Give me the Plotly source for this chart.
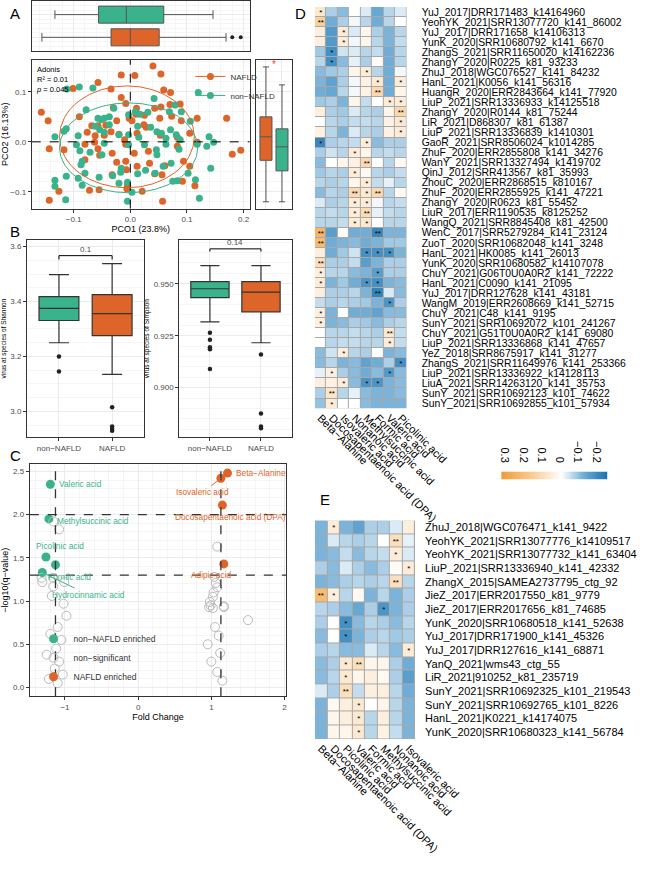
import plotly.graph_objects as go
import numpy as np

W, H = 669, 869
def dx(a, b): return [a / W, b / W]
def dy(t, b): return [1 - b / H, 1 - t / H]
def px(v): return v / W
def py(v): return 1 - v / H

ORANGE = '#DE6529'
GREEN = '#3AB28C'
FONT = 'Liberation Sans, Arial, sans-serif'
TICK = '#4D4D4D'
TS = 8      # tick label size
TT = 9      # axis title size

# ---------------- Panel A data ----------------
nafld_x = [0.040, 0.054, -0.016, 0.008, -0.057, -0.101, -0.034, 0.059, -0.016, 0.071,
           -0.157, -0.145, -0.030, 0.011, -0.008, 0.043, 0.054, 0.070, 0.088, 0.010,
           -0.002, 0.025, 0.052, -0.090, -0.068, -0.057, -0.043, -0.024, -0.034, -0.020,
           0.003, 0.024, 0.028, 0.073, 0.090, 0.053, 0.083, 0.118, 0.170, -0.076,
           -0.062, -0.063, -0.080, -0.057, -0.046, -0.010, -0.008, 0.012, 0.105, 0.118,
           -0.143, 0.180, 0.195, -0.117, 0.083, -0.032, 0.007, 0.032, -0.054, -0.080,
           -0.024, -0.008, 0.012, 0.061, 0.034, 0.094, 0.105, -0.007, -0.032, 0.043,
           0.056, 0.114, 0.092, -0.126, -0.072, -0.055, -0.006, 0.021, -0.143, 0.057,
           -0.005]
nafld_y = [0.152, 0.136, 0.134, 0.133, 0.119, 0.107, 0.106, 0.104, 0.089, 0.099,
           0.059, 0.042, 0.069, 0.067, 0.077, 0.067, 0.070, 0.075, 0.076, 0.055,
           0.047, 0.053, 0.047, 0.050, 0.032, 0.032, 0.033, 0.042, 0.020, 0.015,
           0.042, 0.034, 0.029, 0.051, 0.042, 0.013, 0.009, 0.047, 0.047, 0.019,
           0.012, -0.001, -0.005, -0.014, 0.013, 0.004, -0.005, 0.017, 0.017, -0.001,
           -0.014, -0.025, -0.017, -0.016, -0.009, -0.023, -0.023, -0.019, -0.027, -0.036,
           -0.041, -0.039, -0.049, -0.048, -0.043, -0.039, -0.049, -0.056, -0.066, -0.064,
           -0.066, -0.088, -0.079, -0.099, -0.097, -0.096, -0.094, -0.099, -0.117, -0.119,
           -0.088]
non_x = [-0.112, -0.090, -0.066, 0.120, 0.042, 0.079, -0.029, -0.003, -0.078, 0.090,
         0.009, 0.017, 0.031, 0.069, -0.057, -0.051, -0.046, -0.037, -0.062, -0.054,
         -0.046, -0.037, -0.113, -0.117, -0.133, -0.092, -0.020, -0.003, 0.013, 0.015,
         0.036, 0.047, 0.055, 0.071, 0.063, 0.081, 0.088, 0.106, 0.118, 0.139,
         0.147, 0.135, -0.003, -0.046, -0.071, -0.050, 0.025, 0.047, 0.046, 0.063,
         0.086, -0.089, -0.095, -0.085, -0.087, -0.080, -0.133, -0.113, -0.133, -0.092,
         -0.085, -0.055, -0.031, -0.020, -0.016, -0.017, -0.005, 0.013, 0.027, 0.044,
         0.058, 0.072, 0.075, 0.083, 0.102, 0.115, 0.142, 0.122, 0.003, -0.005,
         -0.114]
non_y = [0.106, 0.110, 0.108, 0.099, 0.087, 0.074, 0.067, 0.054, 0.064, 0.060,
         0.060, 0.055, 0.059, 0.060, 0.047, 0.044, 0.047, 0.050, 0.031, 0.024,
         0.019, 0.034, 0.026, 0.021, 0.010, 0.012, 0.014, 0.014, 0.031, 0.009,
         0.029, 0.020, 0.017, 0.024, 0.007, 0.014, 0.004, 0.041, -0.005, 0.010,
         -0.001, -0.009, -0.006, -0.003, -0.021, -0.026, -0.006, -0.026, -0.016, -0.005,
         -0.015, -0.018, -0.006, -0.039, -0.046, -0.063, -0.077, -0.069, -0.089, -0.073,
         -0.087, -0.071, -0.068, -0.083, -0.053, -0.061, -0.081, -0.064, -0.057, -0.063,
         -0.049, -0.043, -0.079, -0.078, -0.063, -0.076, -0.053, -0.113, -0.101, -0.119,
         -0.116]

# box stats: q1, median, q3, lower whisker, upper whisker
pco1_box = {'non-NAFLD': [-0.056, -0.007, 0.059, -0.133, 0.146],
            'NAFLD': [-0.034, 0.000, 0.051, -0.156, 0.169]}
pco1_out_nafld = [0.180, 0.195]
pco2_box = {'NAFLD': [-0.037, 0.010, 0.050, -0.120, 0.150],
            'non-NAFLD': [-0.058, -0.010, 0.026, -0.120, 0.114]}

# ---------------- Panel B data ----------------
shannon_box = {'non-NAFLD': [3.331, 3.375, 3.418, 3.25, 3.498],
               'NAFLD': [3.276, 3.356, 3.425, 3.135, 3.538]}
shannon_out = {'non-NAFLD': [3.20, 3.145], 'NAFLD': [3.015, 2.945, 2.937, 2.93]}
simpson_box = {'non-NAFLD': [0.9433, 0.9476, 0.951, 0.9317, 0.9587],
               'NAFLD': [0.9365, 0.946, 0.951, 0.9216, 0.9587]}
simpson_out = {'non-NAFLD': [0.9264, 0.923, 0.9194, 0.9185, 0.909],
               'NAFLD': [0.916, 0.8875, 0.8813, 0.8805]}
shannon_p = '0.1'
simpson_p = '0.14'

# ---------------- Panel C data ----------------
c_green_names = ['Valeric acid', 'Methylsuccinic acid', 'Picolinic acid', 'Formic acid', 'Hydrocinnamic acid']
c_green_fc = [-1.20, -1.22, -1.26, -1.13, -1.31]
c_green_q = [2.35, 1.95, 1.51, 1.42, 1.33]
c_orange_names = ['Beta−Alanine', 'Isovaleric acid', 'Docosapentaenoic acid (DPA)', 'Adipic acid']
c_orange_fc = [1.22, 1.13, 1.15, 1.17]
c_orange_q = [2.48, 2.42, 2.11, 1.43]
c_grey_fc = [-1.16, -1.08, -1.32, -1.31, -1.01, -1.16, -1.16, -1.18, -1.02, -0.98,
             -1.10, -1.20, -1.05, -1.12, -1.25, -1.08, -1.14, -1.03, -1.22, -1.10,
             1.08, 1.04, 1.06, 1.08, 1.03, 1.02, 0.98, 0.97, 1.02, 1.17,
             0.99, 1.17, 1.50, 1.05, 1.10, 0.95, 1.12, 1.00, 1.08, 1.15]
c_grey_q = [1.92, 1.83, 1.27, 1.22, 1.22, 1.27, 1.17, 1.06, 0.97, 0.83,
            0.70, 0.62, 0.55, 0.45, 0.38, 0.30, 0.22, 0.15, 0.10, 0.05,
            1.63, 1.28, 1.21, 1.16, 1.10, 1.05, 0.99, 0.93, 0.92, 0.94,
            0.95, 0.93, 0.78, 0.70, 0.60, 0.50, 0.40, 0.30, 0.18, 0.08]

# ---------------- Panel D data ----------------
D_cols = ['Beta−Alanine', 'Docosapentaenoic acid (DPA)', 'Isovaleric acid', 'Nonanoic acid',
          'Methylsuccinic acid', 'Formic acid', 'Valeric acid', 'Picolinic acid']
D_rows = ['YuJ_2017|DRR171483_k14164960', 'YeohYK_2021|SRR13077720_k141_86002',
          'YuJ_2017|DRR171658_k14106313', 'YunK_2020|SRR10680792_k141_6670',
          'ZhangS_2021|SRR11650020_k14162236', 'ZhangY_2020|R0225_k81_93233',
          'ZhuJ_2018|WGC076527_k141_84232', 'HanL_2021|K0056_k141_56316',
          'HuangR_2020|ERR2843664_k141_77920', 'LiuP_2021|SRR13336933_k14125518',
          'ZhangY_2020|R0144_k81_75244', 'LiR_2021|D868307_k81_61387',
          'LiuP_2021|SRR13336839_k1410301', 'GaoR_2021|SRR8506024_k1014285',
          'ZhuF_2020|ERR2855808_k141_34276', 'WanY_2021|SRR13327494_k1419702',
          'QinJ_2012|SRR413567_k81_35993', 'ZhouC_2020|ERR2868515_k810167',
          'ZhuF_2020|ERR2855925_k141_47221', 'ZhangY_2020|R0623_k81_55452',
          'LiuR_2017|ERR1190535_k8125252', 'WangQ_2021|SRR8845408_k81_42500',
          'WenC_2017|SRR5279284_k141_23124', 'ZuoT_2020|SRR10682048_k141_3248',
          'HanL_2021|HK0085_k141_26013', 'YunK_2020|SRR10680582_k14107078',
          'ChuY_2021|G06T0U0A0R2_k141_72222', 'HanL_2021|C0090_k141_21095',
          'YuJ_2017|DRR127628_k141_43181', 'WangM_2019|ERR2608669_k141_52715',
          'ChuY_2021|C48_k141_9195', 'SunY_2021|SRR10692072_k101_241267',
          'ChuY_2021|G51T0U0A0R2_k141_69080', 'LiuP_2021|SRR13336868_k141_47657',
          'YeZ_2018|SRR8675917_k141_31277', 'ZhangS_2021|SRR11649976_k141_253366',
          'LiuP_2021|SRR13336922_k14128113', 'LiuA_2021|SRR14263120_k141_35753',
          'SunY_2021|SRR10692123_k101_74622', 'SunY_2021|SRR10692855_k101_57934']
D_vals = [
    [0.07, -0.07, -0.10, 0.00, -0.03, -0.13, -0.06, -0.03],
    [0.15, -0.12, -0.07, -0.01, -0.06, -0.12, -0.06, 0.00],
    [0.05, -0.16, 0.06, -0.03, 0.03, -0.07, -0.11, -0.06],
    [0.05, -0.16, 0.06, -0.01, 0.03, -0.06, -0.11, -0.05],
    [-0.08, -0.18, -0.04, -0.03, -0.06, -0.05, -0.12, -0.06],
    [-0.06, -0.18, -0.10, -0.02, -0.07, 0.01, -0.12, -0.06],
    [-0.10, -0.08, -0.07, 0.03, 0.06, -0.06, -0.12, -0.01],
    [-0.11, -0.14, -0.07, -0.01, 0.04, 0.07, -0.12, 0.06],
    [-0.12, -0.13, -0.06, -0.01, 0.04, 0.12, -0.12, 0.03],
    [-0.08, -0.07, -0.11, 0.03, -0.05, 0.00, 0.06, 0.06],
    [0.05, -0.07, -0.08, -0.03, -0.06, -0.07, 0.03, 0.12],
    [0.00, -0.06, -0.07, -0.05, -0.05, -0.06, 0.04, 0.07],
    [0.04, -0.06, -0.11, -0.03, -0.06, -0.07, 0.04, 0.06],
    [-0.20, -0.07, -0.06, -0.05, 0.06, -0.10, -0.07, -0.07],
    [-0.07, -0.04, -0.06, 0.06, 0.03, -0.06, -0.05, -0.06],
    [-0.10, 0.00, 0.03, 0.04, 0.12, 0.00, -0.06, 0.02],
    [-0.08, -0.06, -0.07, 0.06, 0.02, -0.06, -0.07, -0.05],
    [-0.06, -0.07, -0.06, 0.03, 0.06, -0.05, -0.02, -0.06],
    [-0.10, -0.06, -0.07, 0.12, 0.07, 0.12, -0.06, 0.02],
    [-0.03, -0.07, -0.06, 0.06, 0.06, -0.01, -0.06, -0.05],
    [-0.06, -0.05, -0.06, 0.06, 0.11, -0.02, -0.05, -0.06],
    [-0.06, -0.06, -0.05, 0.06, 0.07, 0.00, -0.06, -0.06],
    [0.24, -0.15, 0.01, -0.12, -0.12, -0.20, -0.11, -0.11],
    [0.22, -0.12, -0.11, -0.10, -0.12, -0.11, -0.08, -0.08],
    [0.05, -0.12, -0.08, -0.04, -0.18, -0.18, -0.18, -0.11],
    [0.10, -0.07, -0.07, -0.05, -0.15, -0.11, -0.07, -0.07],
    [0.05, -0.06, -0.06, -0.10, -0.11, -0.15, -0.07, -0.07],
    [0.06, -0.11, -0.08, -0.12, -0.17, -0.18, -0.11, -0.10],
    [0.05, -0.07, -0.07, -0.06, -0.11, -0.21, -0.03, -0.10],
    [-0.05, -0.07, -0.06, -0.07, -0.08, -0.11, -0.17, -0.07],
    [0.05, -0.11, 0.00, -0.12, -0.12, -0.14, -0.10, -0.10],
    [0.05, -0.11, -0.10, -0.07, -0.08, -0.10, -0.07, -0.06],
    [0.00, -0.06, -0.06, -0.05, -0.06, -0.07, 0.07, -0.05],
    [0.00, -0.06, -0.05, -0.05, -0.06, -0.06, 0.06, -0.05],
    [-0.10, -0.04, 0.05, -0.06, -0.07, 0.00, -0.11, -0.10],
    [-0.10, -0.06, -0.11, -0.10, -0.14, -0.12, -0.07, -0.18],
    [-0.02, 0.05, -0.07, -0.10, -0.12, -0.10, -0.16, -0.10],
    [0.05, 0.04, 0.06, -0.10, -0.17, -0.17, -0.11, -0.10],
    [-0.07, 0.08, -0.06, -0.02, -0.10, -0.11, -0.11, -0.10],
    [-0.09, 0.06, 0.00, 0.00, -0.10, -0.11, -0.11, -0.11],
]
D_stars = [
    ['*', '', '', '', '', '', '', ''], ['**', '', '', '', '', '', '', ''],
    ['', '', '*', '', '', '', '', ''], ['', '', '*', '', '', '', '', ''],
    ['', '*', '', '', '', '', '', ''], ['', '*', '', '', '', '', '', ''],
    ['', '', '', '', '*', '', '', ''], ['', '', '', '', '', '*', '', '*'],
    ['', '', '', '', '', '**', '', ''], ['', '', '', '', '', '', '*', '*'],
    ['', '', '', '', '', '', '', '**'], ['', '', '', '', '', '', '', '*'],
    ['', '', '', '', '', '', '', '*'], ['*', '', '', '', '*', '', '', ''],
    ['', '', '', '*', '', '', '', ''], ['', '', '', '', '**', '', '', ''],
    ['', '', '', '*', '', '', '', ''], ['', '', '', '', '*', '', '', ''],
    ['', '', '', '**', '*', '**', '', ''], ['', '', '', '*', '*', '', '', ''],
    ['', '', '', '*', '**', '', '', ''], ['', '', '', '*', '*', '', '', ''],
    ['**', '', '', '', '', '**', '', ''], ['**', '', '', '', '', '', '', ''],
    ['', '', '', '', '*', '*', '*', ''], ['**', '', '', '', '', '', '', ''],
    ['*', '', '', '', '', '*', '', ''], ['*', '', '', '', '*', '*', '', ''],
    ['', '', '', '', '', '**', '', ''], ['', '', '', '', '', '', '*', ''],
    ['*', '', '', '', '', '', '', ''], ['*', '', '', '', '', '', '', ''],
    ['', '', '', '', '', '', '**', ''], ['', '', '', '', '', '', '*', ''],
    ['', '', '*', '', '', '', '', ''], ['', '', '', '', '', '', '', '*'],
    ['', '*', '', '', '', '', '*', ''], ['', '', '*', '', '*', '*', '', ''],
    ['', '**', '', '', '', '', '', ''], ['', '*', '', '', '', '', '', ''],
]

# ---------------- Panel E data ----------------
E_cols = ['Beta−Alanine', 'Docosapentaenoic acid (DPA)', 'Picolinic acid', 'Valeric acid',
          'Formic acid', 'Methylsuccinic acid', 'Nonanoic acid', 'Isovaleric acid']
E_rows = ['ZhuJ_2018|WGC076471_k141_9422', 'YeohYK_2021|SRR13077776_k14109517',
          'YeohYK_2021|SRR13077732_k141_63404', 'LiuP_2021|SRR13336940_k141_42332',
          'ZhangX_2015|SAMEA2737795_ctg_92', 'JieZ_2017|ERR2017550_k81_9779',
          'JieZ_2017|ERR2017656_k81_74685', 'YunK_2020|SRR10680518_k141_52638',
          'YuJ_2017|DRR171900_k141_45326', 'YuJ_2017|DRR127616_k141_68871',
          'YanQ_2021|wms43_ctg_55', 'LiR_2021|910252_k81_235719',
          'SunY_2021|SRR10692325_k101_219543', 'SunY_2021|SRR10692765_k101_8226',
          'HanL_2021|K0221_k14174075', 'YunK_2020|SRR10680323_k141_56784']
E_vals = [
    [-0.11, 0.06, -0.11, -0.14, -0.07, -0.07, -0.03, 0.05],
    [-0.11, -0.03, -0.06, -0.07, -0.06, 0.00, 0.10, -0.02],
    [-0.11, -0.10, -0.05, -0.10, -0.06, -0.05, 0.06, -0.03],
    [-0.07, -0.10, -0.03, -0.07, -0.10, -0.07, 0.01, 0.06],
    [-0.11, -0.10, -0.07, -0.06, -0.07, -0.06, 0.10, -0.06],
    [0.22, 0.05, -0.06, 0.02, -0.11, -0.06, -0.11, -0.07],
    [-0.06, -0.07, -0.10, -0.13, -0.07, -0.17, -0.11, -0.07],
    [-0.07, 0.00, -0.18, -0.10, -0.06, -0.07, -0.10, -0.06],
    [-0.10, 0.00, -0.18, -0.11, -0.07, -0.06, -0.08, -0.07],
    [-0.07, -0.06, -0.10, -0.10, -0.03, -0.06, -0.10, 0.06],
    [-0.10, -0.07, 0.07, 0.10, 0.03, 0.03, -0.07, -0.12],
    [-0.10, -0.06, 0.07, 0.03, 0.05, 0.02, -0.07, -0.15],
    [-0.03, -0.07, 0.10, -0.05, 0.05, 0.05, -0.06, -0.12],
    [-0.11, 0.02, 0.05, 0.07, 0.00, 0.03, -0.06, -0.11],
    [-0.11, 0.03, 0.05, 0.07, -0.06, 0.05, -0.06, -0.11],
    [-0.11, 0.03, 0.03, 0.07, -0.06, 0.04, -0.05, -0.11],
]
E_stars = [
    ['', '*', '', '', '', '', '', ''], ['', '', '', '', '', '', '**', ''],
    ['', '', '', '', '', '', '*', ''], ['', '', '', '', '', '', '', '*'],
    ['', '', '', '', '', '', '**', ''], ['**', '*', '', '', '', '', '', ''],
    ['', '', '', '', '', '*', '', ''], ['', '', '*', '', '', '', '', ''],
    ['', '', '*', '', '', '', '', ''], ['', '', '', '', '', '', '', '*'],
    ['', '', '*', '**', '', '', '', ''], ['', '', '*', '', '', '', '', ''],
    ['', '', '**', '', '', '', '', ''], ['', '', '', '*', '', '', '', ''],
    ['', '', '', '*', '', '', '', ''], ['', '', '', '*', '', '', '', ''],
]
cbar_ticks = [0.3, 0.2, 0.1, 0.0, -0.1, -0.2]
cbar_text = ['0.3', '0.2', '0.1', '0', '−0.1', '−0.2']

ZMIN, ZMAX = -0.25, 0.33
zero = (0 - ZMIN) / (ZMAX - ZMIN)
CSCALE = [[0, '#1672B0'], [zero * 0.5, '#6AAAD4'], [zero, '#FFFFFF'],
          [zero + (1 - zero) * 0.5, '#F9CB92'], [1, '#F29A33']]

fig = go.Figure()

def frame_axis(**kw):
    d = dict(showline=True, mirror=True, linecolor='#333333', linewidth=1,
             showgrid=True, gridcolor='#EBEBEB', gridwidth=1,
             minor=dict(showgrid=True, gridcolor='#F5F5F5', gridwidth=0.5),
             ticks='outside', ticklen=3, tickcolor='#333333',
             tickfont=dict(size=TS, color=TICK, family=FONT), zeroline=False)
    d.update(kw)
    return d

for i, (g, col) in enumerate([('non-NAFLD', GREEN), ('NAFLD', ORANGE)]):
    q1, md, q3, lo, hi = pco1_box[g]
    fig.add_trace(go.Box(y=[2 - i], q1=[q1], median=[md], q3=[q3], lowerfence=[lo], upperfence=[hi],
                         orientation='h', fillcolor=col, line=dict(color='#555555', width=1),
                         width=0.75, boxpoints=False, showlegend=False, xaxis='x', yaxis='y'))
fig.add_trace(go.Scatter(x=pco1_out_nafld, y=[1] * len(pco1_out_nafld), mode='markers',
                         marker=dict(color='#222222', size=4), showlegend=False, xaxis='x', yaxis='y'))

fig.add_trace(go.Scatter(x=nafld_x, y=nafld_y, mode='markers', marker=dict(color=ORANGE, size=7),
                         showlegend=False, xaxis='x2', yaxis='y2'))
fig.add_trace(go.Scatter(x=non_x, y=non_y, mode='markers', marker=dict(color=GREEN, size=7),
                         showlegend=False, xaxis='x2', yaxis='y2'))
for name, col in [('NAFLD', ORANGE), ('non−NAFLD', GREEN)]:
    fig.add_trace(go.Scatter(x=[None], y=[None], mode='lines+markers', name=name,
                             marker=dict(color=col, size=7), line=dict(color=col, width=1),
                             xaxis='x2', yaxis='y2', legend='legend'))

for i, (g, col) in enumerate([('NAFLD', ORANGE), ('non-NAFLD', GREEN)]):
    q1, md, q3, lo, hi = pco2_box[g]
    fig.add_trace(go.Box(x=[i + 1], q1=[q1], median=[md], q3=[q3], lowerfence=[lo], upperfence=[hi],
                         fillcolor=col, line=dict(color='#555555', width=1), width=0.75,
                         boxpoints=False, showlegend=False, xaxis='x3', yaxis='y3'))

for (xa, ya, box, outs) in [('x4', 'y4', shannon_box, shannon_out), ('x5', 'y5', simpson_box, simpson_out)]:
    for i, (g, col) in enumerate([('non-NAFLD', GREEN), ('NAFLD', ORANGE)]):
        q1, md, q3, lo, hi = box[g]
        fig.add_trace(go.Box(x=[i + 1], q1=[q1], median=[md], q3=[q3], lowerfence=[lo], upperfence=[hi],
                             fillcolor=col, line=dict(color='#333333', width=1.2), width=0.75,
                             boxpoints=False, showlegend=False, xaxis=xa, yaxis=ya))
        fig.add_trace(go.Scatter(x=[i + 1] * len(outs[g]), y=outs[g], mode='markers',
                                 marker=dict(color='#222222', size=4.5), showlegend=False,
                                 xaxis=xa, yaxis=ya))

fig.add_trace(go.Scatter(x=c_green_fc, y=c_green_q, mode='markers', name='non−NAFLD enriched',
                         marker=dict(color=GREEN, size=9), xaxis='x6', yaxis='y6', legend='legend2'))
fig.add_trace(go.Scatter(x=c_grey_fc, y=c_grey_q, mode='markers', name='non−significant',
                         marker=dict(color='rgba(0,0,0,0)', size=9, line=dict(color='#BBBBBB', width=1)),
                         xaxis='x6', yaxis='y6', legend='legend2'))
fig.add_trace(go.Scatter(x=c_orange_fc, y=c_orange_q, mode='markers', name='NAFLD enriched',
                         marker=dict(color=ORANGE, size=9), xaxis='x6', yaxis='y6', legend='legend2'))

fig.add_trace(go.Heatmap(z=D_vals, x=list(range(8)), y=list(range(len(D_rows))), text=D_stars,
                         texttemplate='%{text}', textfont=dict(size=8, color='black'),
                         colorscale=CSCALE, zmin=ZMIN, zmax=ZMAX, showscale=False,
                         xgap=1, ygap=1, hoverinfo='skip', xaxis='x7', yaxis='y7'))
cb = list(np.linspace(ZMAX, ZMIN, 120))
fig.add_trace(go.Heatmap(z=[cb], x=cb, y=[0], colorscale=CSCALE, zmin=ZMIN, zmax=ZMAX,
                         showscale=False, hoverinfo='skip', xaxis='x8', yaxis='y8'))
fig.add_trace(go.Heatmap(z=E_vals, x=list(range(8)), y=list(range(len(E_rows))), text=E_stars,
                         texttemplate='%{text}', textfont=dict(size=8, color='black'),
                         colorscale=CSCALE, zmin=ZMIN, zmax=ZMAX, showscale=False,
                         xgap=1, ygap=1, hoverinfo='skip', xaxis='x9', yaxis='y9'))

AX_L, AX_R = 32, 267
XR = [-0.174, 0.211]
YR = [-0.134, 0.164]
noticks = dict(showticklabels=False, ticks='')
lay = dict(
    width=W, height=H, margin=dict(l=0, r=0, t=0, b=0),
    paper_bgcolor='white', plot_bgcolor='white',
    font=dict(family=FONT, size=10, color='black'),
    xaxis=frame_axis(domain=dx(AX_L, AX_R), range=XR, dtick=0.1, anchor='y', **noticks),
    yaxis=frame_axis(domain=dy(1, 51), range=[0.4, 2.6], anchor='x', dtick=1, **noticks),
    xaxis2=frame_axis(domain=dx(AX_L, AX_R), range=XR, dtick=0.1, tickformat='.1f', anchor='y2',
                      title=dict(text='PCO1 (23.8%)', font=dict(size=TT, color='black'), standoff=1)),
    yaxis2=frame_axis(domain=dy(60, 209), range=YR, dtick=0.1, tickformat='.1f', anchor='x2',
                      title=dict(text='PCO2 (16.13%)', font=dict(size=TT, color='black'), standoff=3)),
    xaxis3=frame_axis(domain=dx(274, 312), range=[0.4, 2.6], anchor='y3', dtick=1, **noticks),
    yaxis3=frame_axis(domain=dy(60, 209), range=YR, dtick=0.1, anchor='x3', **noticks),
    xaxis4=frame_axis(domain=dx(27, 153), range=[0.4, 2.6], tickvals=[1, 2], ticktext=['non−NAFLD', 'NAFLD'],
                      anchor='y4', minor=dict(showgrid=False)),
    yaxis4=frame_axis(domain=dy(240, 438), range=[2.905, 3.625], dtick=0.2, tickformat='.1f', anchor='x4',
                      title=dict(text='virus at species of Shannon', font=dict(size=6.5, color='black'), standoff=3)),
    xaxis5=frame_axis(domain=dx(191, 312), range=[0.4, 2.6], tickvals=[1, 2], ticktext=['non−NAFLD', 'NAFLD'],
                      anchor='y5', minor=dict(showgrid=False)),
    yaxis5=frame_axis(domain=dy(240, 438), range=[0.876, 0.9712], dtick=0.025, tickformat='.3f', anchor='x5',
                      title=dict(text='virus at species of Simpson', font=dict(size=6.5, color='black'), standoff=3)),
    xaxis6=frame_axis(domain=dx(30, 306), range=[-1.48, 2.02], dtick=1, anchor='y6',
                      title=dict(text='Fold Change', font=dict(size=TT, color='black'), standoff=2)),
    yaxis6=frame_axis(domain=dy(465, 697), range=[-0.1, 2.58], dtick=0.5, tickformat='.1f', anchor='x6',
                      title=dict(text='−log10(q−value)', font=dict(size=TT, color='black'), standoff=3)),
    xaxis7=dict(domain=dx(337, 436), range=[-0.5, 7.5], anchor='y7', showgrid=False, zeroline=False,
                tickvals=list(range(8)), ticktext=D_cols, tickangle=45, ticks='',
                tickfont=dict(size=11, color='black')),
    yaxis7=dict(domain=dy(7, 409), range=[len(D_rows) - 0.5, -0.5], anchor='x7', side='right',
                showgrid=False, zeroline=False, tickvals=list(range(len(D_rows))), ticktext=D_rows,
                ticks='', ticklabelstandoff=14, tickfont=dict(size=10.4, color='black')),
    xaxis8=dict(domain=dx(538, 652), range=[ZMAX, ZMIN], anchor='y8', side='top', showgrid=False,
                zeroline=False, tickvals=cbar_ticks, ticktext=cbar_text, ticks='',
                tickfont=dict(size=11, color='black')),
    yaxis8=dict(domain=dy(472, 480), range=[-0.5, 0.5], anchor='x8', visible=False),
    xaxis9=dict(domain=dx(337, 445), range=[-0.5, 7.5], anchor='y9', showgrid=False, zeroline=False,
                tickvals=list(range(8)), ticktext=E_cols, tickangle=45, ticks='',
                tickfont=dict(size=11, color='black')),
    yaxis9=dict(domain=dy(521, 740), range=[len(E_rows) - 0.5, -0.5], anchor='x9', side='right',
                showgrid=False, zeroline=False, tickvals=list(range(len(E_rows))), ticktext=E_rows,
                ticks='', ticklabelstandoff=9, tickfont=dict(size=11, color='black')),
    legend=dict(x=px(203), y=py(62), xanchor='left', yanchor='top', bgcolor='rgba(0,0,0,0)',
                font=dict(size=8, color='#333333'), itemwidth=30, tracegroupgap=0),
    legend2=dict(x=px(34), y=py(692), xanchor='left', yanchor='bottom', bgcolor='rgba(0,0,0,0)',
                 font=dict(size=8.5, color='#333333'), tracegroupgap=0),
)
fig.update_layout(**lay)

shapes = []
ann = []
shapes.append(dict(type='line', xref='x2', yref='y2', x0=0, x1=0, y0=YR[0], y1=YR[1],
                   line=dict(color='black', width=1, dash='dash')))
shapes.append(dict(type='line', xref='x2', yref='y2', x0=XR[0], x1=XR[1], y0=0, y1=0,
                   line=dict(color='black', width=1, dash='dash')))
shapes.append(dict(type='circle', xref='x2', yref='y2', x0=-0.125, x1=0.113, y0=-0.092, y1=0.112,
                   line=dict(color=ORANGE, width=1)))
shapes.append(dict(type='circle', xref='x2', yref='y2', x0=-0.125, x1=0.119, y0=-0.102, y1=0.078,
                   line=dict(color=GREEN, width=1)))
ann.append(dict(xref='paper', yref='paper', x=px(35), y=py(63), xanchor='left', yanchor='top',
                text='Adonis<br>R² = 0.01<br><i>p</i> = 0.045', showarrow=False, align='left',
                font=dict(size=7.5, color='black')))
ann.append(dict(xref='x3', yref='y3', x=1.5, y=0.155, text='*', showarrow=False,
                font=dict(size=10, color='#FF4444')))
for xa, ya, ylin, ytick, lab in [('x4', 'y4', 3.567, 3.553, shannon_p), ('x5', 'y5', 0.9668, 0.9655, simpson_p)]:
    shapes.append(dict(type='path', xref=xa, yref=ya,
                       path=f'M 1,{ytick} L 1,{ylin} L 2,{ylin} L 2,{ytick}',
                       line=dict(color='black', width=1)))
    ann.append(dict(xref=xa, yref=ya, x=1.5, y=ylin, text=lab, showarrow=False, yanchor='bottom',
                    font=dict(size=8, color=TICK)))
for xv in [-1.13, 1.13]:
    shapes.append(dict(type='line', xref='x6', yref='y6 domain', x0=xv, x1=xv, y0=0, y1=1,
                       line=dict(color='#333333', width=1.3, dash='dash')))
for yv in [2.0, 1.3]:
    shapes.append(dict(type='line', xref='x6 domain', yref='y6', x0=0, x1=1, y0=yv, y1=yv,
                       line=dict(color='#333333', width=1.3, dash='dash')))
c_lab = [
    (c_green_fc[0], c_green_q[0], c_green_names[0], GREEN, 7, 0, 'left'),
    (c_green_fc[1], c_green_q[1], c_green_names[1], GREEN, 6, -2, 'left'),
    (c_green_fc[2], c_green_q[2], c_green_names[2], GREEN, 14, 11, 'center'),
    (c_green_fc[3], c_green_q[3], c_green_names[3], GREEN, -9, -12, 'left'),
    (c_orange_fc[0], c_orange_q[0], c_orange_names[0], ORANGE, 7, 0, 'left'),
    (c_orange_fc[2], c_orange_q[2], c_orange_names[2], ORANGE, 8, -12, 'center'),
    (c_orange_fc[3], c_orange_q[3], c_orange_names[3], ORANGE, -12, -11, 'center'),
]
for xv, yv, t, col, xs, ys, anc in c_lab:
    ann.append(dict(xref='x6', yref='y6', x=xv, y=yv, text=t, showarrow=False, xanchor=anc,
                    xshift=xs, yshift=ys, font=dict(size=8.3, color=col)))
ann.append(dict(xref='x6', yref='y6', x=c_orange_fc[1], y=c_orange_q[1], text=c_orange_names[1],
                showarrow=True, arrowhead=0, arrowwidth=1, arrowcolor=ORANGE, ax=-18, ay=14,
                xanchor='center', font=dict(size=8.3, color=ORANGE)))
ann.append(dict(xref='x6', yref='y6', x=c_green_fc[4], y=c_green_q[4], text=c_green_names[4],
                showarrow=True, arrowhead=0, arrowwidth=1, arrowcolor=GREEN, ax=46, ay=22,
                xanchor='center', font=dict(size=8.3, color=GREEN)))
shapes.append(dict(type='rect', xref='x7', yref='y7', x0=-0.5, x1=7.5, y0=-0.5, y1=len(D_rows) - 0.5,
                   fillcolor='#A8A8A8', line=dict(width=0), layer='below'))
shapes.append(dict(type='rect', xref='x9', yref='y9', x0=-0.5, x1=7.5, y0=-0.5, y1=len(E_rows) - 0.5,
                   fillcolor='#A8A8A8', line=dict(width=0), layer='below'))
for t, xx, yy in [('A', 6, 3), ('B', 6, 221), ('C', 6, 446), ('D', 313, 3), ('E', 340, 490)]:
    ann.append(dict(xref='paper', yref='paper', x=px(xx), y=py(yy), xanchor='left', yanchor='top',
                    text=t, showarrow=False, font=dict(size=15, color='black')))
fig.update_layout(shapes=shapes, annotations=ann)
fig.write_html('out.html')
